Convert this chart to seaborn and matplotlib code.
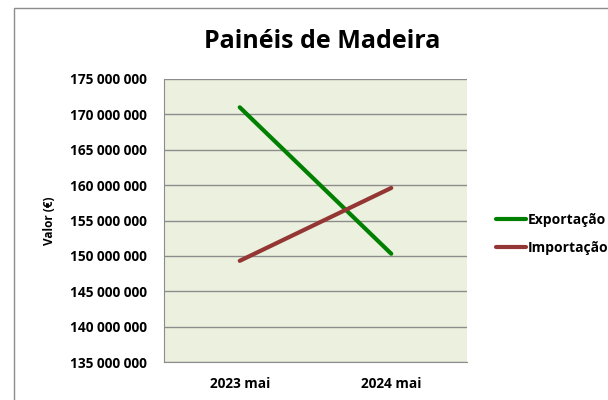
import pandas as pd
import matplotlib.pyplot as plt
import matplotlib.ticker as mticker
from matplotlib.patches import Rectangle
import seaborn as sns

# data
periods = ["2023 mai", "2024 mai"]
exportacao = [171000000, 150300000]
importacao = [149300000, 159600000]
series_names = ["Exportação", "Importação"]
colors = ["#008000", "#943634"]

df = pd.DataFrame({
    "Período": periods * 2,
    "Valor": exportacao + importacao,
    "Fluxo": [series_names[0]] * 2 + [series_names[1]] * 2,
})
df["pos"] = df["Período"].map({p: i for i, p in enumerate(periods)})

sns.set_style("white")
plt.rcParams["font.family"] = ["Open Sans", "DejaVu Sans"]
plt.rcParams["text.color"] = "black"
plt.rcParams["xtick.color"] = "black"
plt.rcParams["ytick.color"] = "black"
plt.rcParams["axes.labelcolor"] = "black"

fig = plt.figure(figsize=(6.08, 4.0), dpi=100)
ax = fig.add_axes([164 / 608, 1 - 362 / 400, (467 - 164) / 608, (362 - 79) / 400])

# outer chart frame, cut off at right and bottom like the reference
fig.patches.append(Rectangle((14 / 608, -0.05), 1.2, 1.05 - 8 / 400,
                             transform=fig.transFigure, fill=False,
                             edgecolor="#8c8c8c", linewidth=1.0))

sns.lineplot(data=df, x="pos", y="Valor", hue="Fluxo", palette=colors,
             linewidth=3, ax=ax, legend=False, zorder=3)

ax.set_facecolor("#ebf1de")
ax.set_xlim(-0.5, 1.5)
ax.set_ylim(135000000, 175000000)
ax.yaxis.set_major_locator(mticker.MultipleLocator(5000000))
ax.yaxis.set_major_formatter(mticker.FuncFormatter(lambda v, p: f"{int(v):,}".replace(",", " ")))
ax.set_xticks(range(len(periods)))
ax.set_xticklabels(periods)
ax.grid(axis="y", color="#8c8c8c", linewidth=1.0)
ax.set_axisbelow(True)
for s in ["top", "right"]:
    ax.spines[s].set_visible(False)
ax.spines["left"].set_color("#8c8c8c")
ax.spines["bottom"].set_color("#8c8c8c")
ax.tick_params(axis="both", length=0, labelsize=9.8, pad=12)
ax.tick_params(axis="x", pad=11)
for lbl in ax.get_xticklabels() + ax.get_yticklabels():
    lbl.set_fontweight("bold")

ax.set_xlabel("")
ax.set_ylabel("Valor (€)", fontsize=8.5, fontweight="bold", labelpad=10)

fig.text(322 / 608, 1 - 42 / 400, "Painéis de Madeira", ha="center", va="center",
         fontsize=18, fontweight="bold")

handles = [plt.Line2D([], [], color=c, linewidth=3) for c in colors]
fig.legend(handles, series_names, loc="center left",
           bbox_to_anchor=(483 / 608, 1 - 234 / 400), frameon=False,
           handlelength=2.2, handletextpad=0.1, labelspacing=1.0,
           prop={"weight": "bold", "size": 10})

fig.savefig("out.png", dpi=100)
